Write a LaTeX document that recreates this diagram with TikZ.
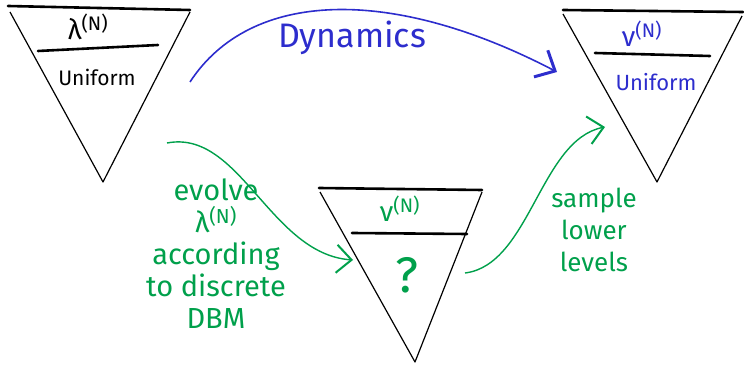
\documentclass[tikz,border=0pt]{standalone}
\usepackage{amsmath}
\usepackage{fontspec}
\setmainfont{Fira Sans}
\usepackage{tikz}
\usetikzlibrary{arrows.meta}

\definecolor{penblue}{RGB}{45,45,205}
\definecolor{pengreen}{RGB}{0,160,75}

\newcommand{\levN}[1]{#1\textsuperscript{(N)}}

\tikzset{
  rim/.style={line width=2.6pt, line cap=round},
  side/.style={line width=1.2pt, line join=round},
  hand/.style 2 args={font=\fontsize{#1}{#2}\selectfont},
  flow/.style={line width=1.4pt, pengreen, -{Straight Barb[length=15pt,width=28pt,line width=2pt]}}
}

\begin{document}
\begin{tikzpicture}[x=1pt, y=1pt, thick, >=stealth]
    \useasboundingbox (0,0) rectangle (744,364);
    % Left funnel
    \coordinate (Ltl) at (8,358);  \coordinate (Ltr) at (190,354);
    \coordinate (Lapex) at (103,182);
    \draw[rim] (Ltl) -- (Ltr);
    \draw[side] (10,352) -- (Lapex) -- (190,352);
    \draw[rim] (38,313) -- (158,319);
    \node[hand={28}{28}] (lamL) at (88,337) {\levN{λ}};
    \node[hand={21}{21}] (uniL) at (97,287) {Uniform};
    % Right funnel
    \coordinate (Rtl) at (563,354);  \coordinate (Rtr) at (743,352);
    \coordinate (Rapex) at (657,182);
    \draw[rim] (Rtl) -- (Rtr);
    \draw[side] (563,350) -- (Rapex) -- (742,348);
    \draw[rim] (595,311) -- (710,308);
    \node[hand={28}{28}, penblue] (nuR) at (642,330) {\levN{ν}};
    \node[hand={22}{22}, penblue] (uniR) at (656,282) {Uniform};
    % Middle funnel
    \coordinate (Mtl) at (319,176);  \coordinate (Mtr) at (482,174);
    \coordinate (Mapex) at (415,2);
    \draw[rim] (Mtl) -- (Mtr);
    \draw[side] (320,172) -- (Mapex) -- (482,172);
    \draw[rim] (352,131) -- (467,130);
    \node[hand={28}{28}, pengreen] (nuM) at (400,155) {\levN{ν}};
    \node[hand={50}{50}, pengreen] (qM) at (407,89) {?};
    % Dynamics arrow
    \coordinate (dynA) at (190,282);
    \coordinate (dynB) at (557,292);
    \draw[line width=1.6pt, penblue, -{Straight Barb[length=16pt,width=30pt,line width=3pt]}]
      (dynA) .. controls (250,374) and (390,379) .. (dynB);
    \node[hand={34}{34}, penblue] (dyn) at (352,326) {Dynamics};
    % Green arrows
    \coordinate (evA) at (167,221);
    \coordinate (evB) at (353,104);
    \draw[flow] (evA) .. controls (240,235) and (270,110) .. (evB);
    \coordinate (smA) at (465,91);
    \coordinate (smB) at (605,237);
    \draw[flow] (smA) .. controls (530,99) and (540,224) .. (smB);
    \node[hand={29}{32}, pengreen, align=center] (evolve) at (216,110)
      {evolve\\\levN{λ}\\according\\to discrete\\DBM};
    \node[hand={26}{32}, pengreen, align=center] (sample) at (594,134)
      {sample\\lower\\levels};
\end{tikzpicture}
\end{document}
